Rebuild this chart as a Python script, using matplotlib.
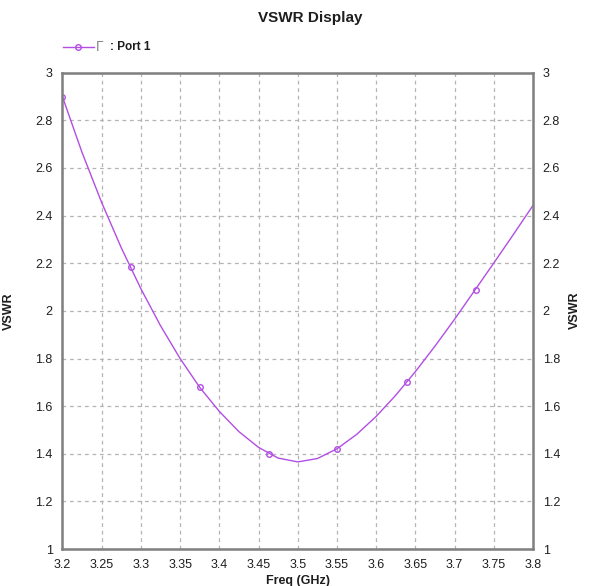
import matplotlib

matplotlib.use("Agg")
import matplotlib.pyplot as plt  # noqa: E402
from matplotlib.ticker import FormatStrFormatter, MultipleLocator  # noqa: E402

plt.rcParams["font.family"] = ["Liberation Sans", "DejaVu Sans"]

# VSWR curve, every 25 MHz
FREQ_GHZ = [3.200, 3.225, 3.250, 3.275, 3.300, 3.325, 3.350, 3.375, 3.400,
            3.425, 3.450, 3.475, 3.500, 3.525, 3.550, 3.575, 3.600, 3.625,
            3.650, 3.675, 3.700, 3.725, 3.750, 3.775, 3.800]
VSWR = [2.899, 2.665, 2.455, 2.265, 2.093, 1.938, 1.800, 1.679, 1.578,
        1.493, 1.427, 1.382, 1.366, 1.380, 1.421, 1.481, 1.557, 1.646,
        1.745, 1.852, 1.965, 2.083, 2.201, 2.321, 2.443]
# marker positions drawn by the simulator
MARK_FREQ = [3.200, 3.2876, 3.375, 3.463, 3.5499, 3.6397, 3.7276]
MARK_VSWR = [2.899, 2.184, 1.681, 1.398, 1.421, 1.700, 2.089]

LINE = "#b24ee4"
SPINE = "#7f7f7f"
TEXT = "#1e1e1e"

fig = plt.figure(figsize=(5.89, 5.86), dpi=100)
ax = fig.add_axes([0.106, 0.063, 0.799, 0.813])

ax.plot(FREQ_GHZ, VSWR, color=LINE, linewidth=1.0, solid_joinstyle="round")
ax.plot(MARK_FREQ, MARK_VSWR, linestyle="none", marker="o", markersize=4,
        markerfacecolor="none", markeredgecolor=LINE, markeredgewidth=1.0)

ax.set_xlim(3.2, 3.8)
ax.set_ylim(1.0, 3.0)
ax.xaxis.set_major_locator(MultipleLocator(0.05))
ax.yaxis.set_major_locator(MultipleLocator(0.2))
ax.xaxis.set_major_formatter(FormatStrFormatter("%g"))
ax.yaxis.set_major_formatter(FormatStrFormatter("%g"))
ax.grid(True, color="#b4b4b4", linestyle=(0, (3, 3)), linewidth=0.9)
ax.tick_params(axis="both", length=0, labelsize=9, colors=TEXT, pad=7)
ax.tick_params(axis="y", labelright=True, right=False)
for spine in ax.spines.values():
    spine.set_color(SPINE)
    spine.set_linewidth(1.8)

ax.set_ylabel("VSWR", fontsize=9, fontweight="bold", color=TEXT, labelpad=15)
ax.set_xlabel("Freq (GHz)", fontsize=9, fontweight="bold", color=TEXT, labelpad=3)
fig.text(0.976, 0.47, "VSWR", rotation=90, fontsize=9, fontweight="bold",
         color=TEXT, ha="center", va="center")

fig.text(0.527, 0.969, "VSWR Display", fontsize=11, fontweight="bold",
         color=TEXT, ha="center", va="center")

# legend row: line sample with marker, then the port label
fig.add_artist(plt.Line2D([0.107, 0.160], [0.919, 0.919], color=LINE,
                          linewidth=1.0, transform=fig.transFigure))
fig.add_artist(plt.Line2D([0.133], [0.919], marker="o", markersize=4,
                          markerfacecolor="none", markeredgecolor=LINE,
                          transform=fig.transFigure))
fig.text(0.162, 0.919, "\u0393", fontsize=10, color="#888888", ha="left",
         va="center")
fig.text(0.187, 0.919, ": Port 1", fontsize=8.5, fontweight="bold",
         color=TEXT, ha="left", va="center")

fig.savefig("out.png", dpi=100)
